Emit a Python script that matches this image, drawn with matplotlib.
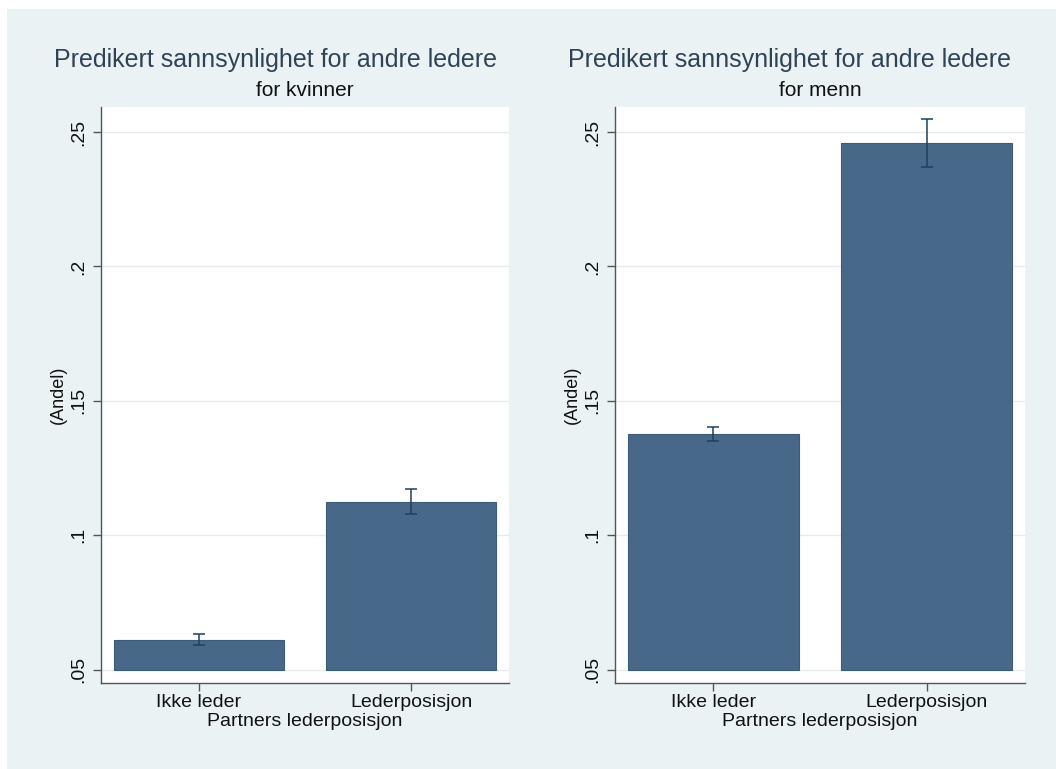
import matplotlib
matplotlib.use("Agg")
import matplotlib.pyplot as plt
from matplotlib.patches import Rectangle

plt.rcParams['font.family'] = ['Liberation Sans', 'DejaVu Sans']

# ---- data ----
categories = ["Ikke leder", "Lederposisjon"]
women_values = [0.0612, 0.1125]
women_lower = [0.0592, 0.1078]
women_upper = [0.0634, 0.1172]
men_values = [0.1377, 0.2459]
men_lower = [0.1352, 0.2369]
men_upper = [0.1403, 0.2549]
yticks = [0.05, 0.10, 0.15, 0.20, 0.25]
ytick_labels = [".05", ".1", ".15", ".2", ".25"]
titles = ["Predikert sannsynlighet for andre ledere",
          "Predikert sannsynlighet for andre ledere"]
subtitles = ["for kvinner", "for menn"]
xlabel = "Partners lederposisjon"
ylabel = "(Andel)"
base = 0.05

W, H = 1056, 769
fig = plt.figure(figsize=(W / 100, H / 100), dpi=100, facecolor="white")
fig.patches.append(Rectangle((7 / W, 0), 1 - 7 / W, 1 - 9 / H,
                             transform=fig.transFigure, facecolor="#EAF2F3",
                             edgecolor="none", zorder=-10))

bar_color = "#486889"
err_color = "#1f3f60"
title_color = "#2e4456"

panels = [
    dict(rect=[101 / W, 86 / H, 408 / W, 576 / H], vals=women_values,
         lo=women_lower, hi=women_upper, tx=276, sx=305),
    dict(rect=[615 / W, 86 / H, 410 / W, 576 / H], vals=men_values,
         lo=men_lower, hi=men_upper, tx=790, sx=820),
]

for i, p in enumerate(panels):
    ax = fig.add_axes(p["rect"])
    ax.set_facecolor("white")
    x = list(range(len(categories)))
    heights = [v - base for v in p["vals"]]
    ax.bar(x, heights, bottom=base, width=0.8, color=bar_color,
           edgecolor="#3d5a78", linewidth=0.8, zorder=2)
    yerr = [[v - l for v, l in zip(p["vals"], p["lo"])],
            [h - v for v, h in zip(p["vals"], p["hi"])]]
    ax.errorbar(x, p["vals"], yerr=yerr, fmt="none", ecolor=err_color,
                elinewidth=1.1, capsize=4, capthick=1.1, zorder=3)
    ax.set_xlim(-0.46, 1.46)
    ax.set_ylim(0.0451, 0.2593)
    ax.set_yticks(yticks)
    ax.set_yticklabels(ytick_labels, rotation=90, va="center")
    ax.set_xticks(x)
    ax.set_xticklabels(categories)
    ax.grid(axis="y", color="#E6ECEE", linewidth=1.0, zorder=0)
    ax.set_axisbelow(True)
    for s in ["top", "right"]:
        ax.spines[s].set_visible(False)
    for s in ["left", "bottom"]:
        ax.spines[s].set_color("#555555")
        ax.spines[s].set_linewidth(1.0)
    ax.tick_params(axis="both", direction="out", length=6, width=1.0,
                   color="#555555", labelsize=14, labelcolor="#111111")
    ax.tick_params(axis="x", pad=2)
    ax.tick_params(axis="y", pad=4)
    ax.set_xlabel(xlabel, fontsize=14, color="#111111", labelpad=1)
    ax.set_ylabel(ylabel, fontsize=13, color="#111111", labelpad=2)
    fig.text(p["tx"] / W, 1 - 60 / H, titles[i], fontsize=18,
             color=title_color, ha="center", va="center")
    fig.text(p["sx"] / W, 1 - 90 / H, subtitles[i], fontsize=15,
             color="#111111", ha="center", va="center")

fig.savefig("out.png", dpi=100, facecolor=fig.get_facecolor())
